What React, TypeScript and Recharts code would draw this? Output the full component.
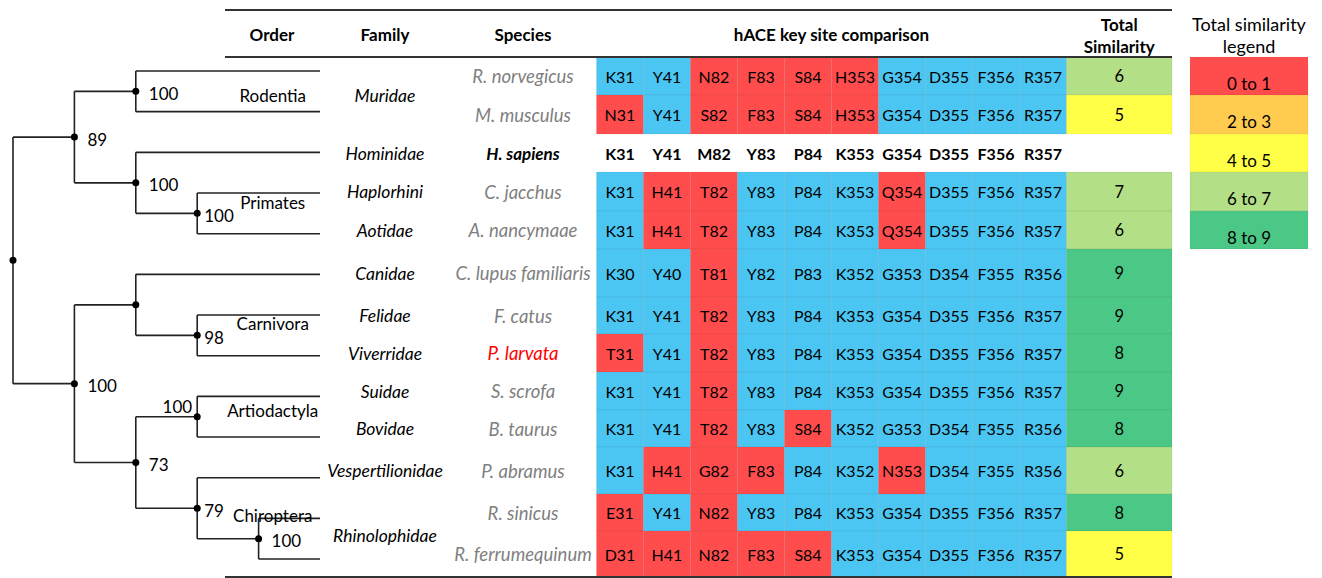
import React from "react";
import { ComposedChart, XAxis, YAxis, Scatter, ReferenceArea, ReferenceLine } from "recharts";

const W = 1322;
const H = 578;
const FONT = "Lato, 'Noto Sans', sans-serif";

// ---- data (rows top to bottom) ----
const species = [
  "R. norvegicus",
  "M. musculus",
  "H. sapiens",
  "C. jacchus",
  "A. nancymaae",
  "C. lupus familiaris",
  "F. catus",
  "P. larvata",
  "S. scrofa",
  "B. taurus",
  "P. abramus",
  "R. sinicus",
  "R. ferrumequinum",
];

const families = [
  { name: "Muridae", rows: [0, 1] },
  { name: "Hominidae", rows: [2, 2] },
  { name: "Haplorhini", rows: [3, 3] },
  { name: "Aotidae", rows: [4, 4] },
  { name: "Canidae", rows: [5, 5] },
  { name: "Felidae", rows: [6, 6] },
  { name: "Viverridae", rows: [7, 7] },
  { name: "Suidae", rows: [8, 8] },
  { name: "Bovidae", rows: [9, 9] },
  { name: "Vespertilionidae", rows: [10, 10] },
  { name: "Rhinolophidae", rows: [11, 12] },
];

const orders = [
  { name: "Rodentia", rows: [0, 1] },
  { name: "Primates", rows: [2, 4] },
  { name: "Carnivora", rows: [5, 7] },
  { name: "Artiodactyla", rows: [8, 9] },
  { name: "Chiroptera", rows: [10, 12] },
];

const keySites = [
  ["K31", "Y41", "N82", "F83", "S84", "H353", "G354", "D355", "F356", "R357"],
  ["N31", "Y41", "S82", "F83", "S84", "H353", "G354", "D355", "F356", "R357"],
  ["K31", "Y41", "M82", "Y83", "P84", "K353", "G354", "D355", "F356", "R357"],
  ["K31", "H41", "T82", "Y83", "P84", "K353", "Q354", "D355", "F356", "R357"],
  ["K31", "H41", "T82", "Y83", "P84", "K353", "Q354", "D355", "F356", "R357"],
  ["K30", "Y40", "T81", "Y82", "P83", "K352", "G353", "D354", "F355", "R356"],
  ["K31", "Y41", "T82", "Y83", "P84", "K353", "G354", "D355", "F356", "R357"],
  ["T31", "Y41", "T82", "Y83", "P84", "K353", "G354", "D355", "F356", "R357"],
  ["K31", "Y41", "T82", "Y83", "P84", "K353", "G354", "D355", "F356", "R357"],
  ["K31", "Y41", "T82", "Y83", "S84", "K352", "G353", "D354", "F355", "R356"],
  ["K31", "H41", "G82", "F83", "P84", "K352", "N353", "D354", "F355", "R356"],
  ["E31", "Y41", "N82", "Y83", "P84", "K353", "G354", "D355", "F356", "R357"],
  ["D31", "H41", "N82", "F83", "S84", "K353", "G354", "D355", "F356", "R357"],
];

const totalSimilarity = [6, 5, null, 7, 6, 9, 9, 8, 9, 8, 6, 8, 5];
const legendBins = ["0 to 1", "2 to 3", "4 to 5", "6 to 7", "8 to 9"];

const HUMAN_ROW = 2;
const HIGHLIGHT = "P. larvata";

// leaves are row indices; internal nodes carry bootstrap support
type TreeNode = number | { support?: number; children: TreeNode[] };
const tree: TreeNode = {
  children: [
    {
      support: 89,
      children: [
        { support: 100, children: [0, 1] },
        { support: 100, children: [2, { support: 100, children: [3, 4] }] },
      ],
    },
    {
      support: 100,
      children: [
        { children: [5, { support: 98, children: [6, 7] }] },
        {
          support: 73,
          children: [
            { support: 100, children: [8, 9] },
            { support: 79, children: [10, { support: 100, children: [11, 12] }] },
          ],
        },
      ],
    },
  ],
};

// ---- layout ----
// table row borders, like spreadsheet row heights (px)
const ROW_EDGES = [57, 95, 134, 172, 211, 249, 297, 334, 372, 410, 447, 494, 531, 577];
const rowMid = (r: number) => (ROW_EDGES[r] + ROW_EDGES[r + 1]) / 2;
const SITE_X0 = 596.5;
const SITE_W = 47;
const col = (px: number) => (px - SITE_X0) / SITE_W;
const TREE_X0 = 13;
const TREE_STEP = 61.4;
const TREE_Y0 = 71;
const LEAF_GAP = 40.67;
const LEAF_DEPTH = 5;
const TABLE_L = 225;
const TABLE_R = 1172;
const SIM_R = 1172;
const LEG_L = 1190;
const LEG_R = 1308;
const labelLeft = new Set(["8-9"]);
// hand nudges (px) for the order names placed over the tree
const orderNudge: Record<string, number> = {
  Rodentia: 4,
  Primates: 9,
  Carnivora: 8,
  Artiodactyla: -6,
  Chiroptera: -3,
};

const MATCH = "#4BC6F2";
const MISMATCH = "#FF4D4D";
const binColors = ["#FF4D4D", "#FFCC4F", "#FFFF47", "#B3DF87", "#4CC886"];
const GRAY = "#7F7F7F";
const RULE = "#333333";

// tree geometry in (depth, leaf) units
type Seg = [{ x: number; y: number }, { x: number; y: number }];
const treeSegs: Seg[] = [];
const treeNodes: any[] = [];
const firstLeaf = (n: TreeNode): number => (typeof n === "number" ? n : firstLeaf(n.children[0]));
const lastLeaf = (n: TreeNode): number =>
  typeof n === "number" ? n : lastLeaf(n.children[n.children.length - 1]);
function layout(n: TreeNode, depth: number): number {
  if (typeof n === "number") return n;
  const ys = n.children.map((c) => layout(c, depth + 1));
  const y = (ys[0] + ys[ys.length - 1]) / 2;
  n.children.forEach((c, i) => {
    const cx = typeof c === "number" ? LEAF_DEPTH : depth + 1;
    treeSegs.push([{ x: depth, y: ys[i] }, { x: cx, y: ys[i] }]);
  });
  treeSegs.push([{ x: depth, y: ys[0] }, { x: depth, y: ys[ys.length - 1] }]);
  treeNodes.push({
    x: depth,
    y,
    depth,
    support: n.support,
    left: labelLeft.has(`${firstLeaf(n)}-${lastLeaf(n)}`),
  });
  return y;
}
layout(tree, 0);

// cells
const siteCells: any[] = [];
const cellTexts: any[] = [];
keySites.forEach((row, r) => {
  row.forEach((s, i) => {
    const human = keySites[HUMAN_ROW][i];
    const same = s[0] === human[0];
    if (r !== HUMAN_ROW) siteCells.push({ r, i, fill: same ? MATCH : MISMATCH });
    cellTexts.push({ x: i + 0.5, y: rowMid(r), text: s, bold: r === HUMAN_ROW, size: 16 });
  });
});

const simCells = totalSimilarity
  .map((v, r) => ({ r, v }))
  .filter((d) => d.v != null)
  .map((d) => ({ ...d, fill: binColors[Math.min(4, Math.floor((d.v as number) / 2))] }));

const simX = (10 + col(SIM_R)) / 2;
const legX = col((LEG_L + LEG_R) / 2);

const textItems: any[] = [
  ...cellTexts,
  ...simCells.map((d) => ({ x: simX, y: rowMid(d.r), text: String(d.v), size: 16.5 })),
  ...species.map((s, r) => ({
    x: col(523),
    y: rowMid(r),
    text: s,
    italic: true,
    bold: r === HUMAN_ROW,
    size: r === HUMAN_ROW ? 17 : 18.5,
    color: r === HUMAN_ROW ? "#000" : s === HIGHLIGHT ? "#FF0000" : GRAY,
  })),
  ...families.map((f) => ({
    x: col(385),
    y: (ROW_EDGES[f.rows[0]] + ROW_EDGES[f.rows[1] + 1]) / 2,
    text: f.name,
    italic: true,
    size: 17.5,
  })),
  ...legendBins.map((b, k) => ({ x: legX, y: rowMid(k) + 7, text: b, size: 17 })),
  { x: col(272), y: 34, text: "Order", bold: true },
  { x: col(385), y: 34, text: "Family", bold: true },
  { x: col(523), y: 34, text: "Species", bold: true },
  { x: 5, y: 34, text: "hACE key site comparison", bold: true },
  { x: simX, y: 24, text: "Total", bold: true },
  { x: simX, y: 46, text: "Similarity", bold: true },
  { x: legX, y: 24, text: "Total similarity", size: 18 },
  { x: legX, y: 46, text: "legend", size: 18 },
];

const orderItems = orders.map((o) => ({
  x: LEAF_DEPTH - 0.77,
  y: (o.rows[0] + o.rows[1]) / 2 + (orderNudge[o.name] ?? 0) / LEAF_GAP,
  text: o.name,
}));

const TextShape = (p: any) => {
  const d = p.payload;
  return (
    <text
      x={p.cx}
      y={p.cy}
      textAnchor="middle"
      dominantBaseline="central"
      fontFamily={FONT}
      fontSize={d.size ?? 17}
      fontWeight={d.bold ? 700 : 400}
      fontStyle={d.italic ? "italic" : "normal"}
      fill={d.color ?? "#000"}
    >
      {d.text}
    </text>
  );
};

const NodeShape = (p: any) => {
  const d = p.payload;
  const dx = d.left ? -5 : d.depth === 3 ? 7 : 13;
  return (
    <g>
      <circle cx={p.cx} cy={p.cy} r={3.5} fill="#000" />
      {d.support != null && (
        <text
          x={p.cx + dx}
          y={d.left ? p.cy - 10 : p.cy + 2}
          textAnchor={d.left ? "end" : "start"}
          dominantBaseline="central"
          fontFamily={FONT}
          fontSize={17}
          fill="#000"
        >
          {d.support}
        </text>
      )}
    </g>
  );
};

export default function App() {
  return (
    <div style={{ position: "absolute", left: 0, top: 0, width: W, height: H, background: "#fff" }}>
      <ComposedChart width={W} height={H} margin={{ top: 0, right: 0, bottom: 0, left: 0 }}>
        <XAxis
          xAxisId="tab"
          type="number"
          dataKey="x"
          scale="linear"
          domain={[col(0), col(W)]}
          allowDataOverflow
          hide
        />
        <XAxis
          xAxisId="tree"
          type="number"
          dataKey="x"
          scale="linear"
          domain={[-TREE_X0 / TREE_STEP, (W - TREE_X0) / TREE_STEP]}
          allowDataOverflow
          hide
        />
        <YAxis
          yAxisId="tab"
          type="number"
          dataKey="y"
          scale="linear"
          domain={[0, H]}
          reversed
          allowDataOverflow
          hide
        />
        <YAxis
          yAxisId="tree"
          type="number"
          dataKey="y"
          scale="linear"
          domain={[-TREE_Y0 / LEAF_GAP, (H - TREE_Y0) / LEAF_GAP]}
          reversed
          allowDataOverflow
          hide
        />

        {siteCells.map((c) => (
          <ReferenceArea
            key={`c${c.r}-${c.i}`}
            xAxisId="tab"
            yAxisId="tab"
            x1={c.i}
            x2={c.i + 1}
            y1={ROW_EDGES[c.r]}
            y2={ROW_EDGES[c.r + 1]}
            fill={c.fill}
            fillOpacity={1}
            stroke="rgba(0,0,0,0.05)"
            ifOverflow="visible"
          />
        ))}
        {simCells.map((c) => (
          <ReferenceArea
            key={`s${c.r}`}
            xAxisId="tab"
            yAxisId="tab"
            x1={10}
            x2={col(SIM_R)}
            y1={ROW_EDGES[c.r]}
            y2={ROW_EDGES[c.r + 1]}
            fill={c.fill}
            fillOpacity={1}
            stroke="rgba(0,0,0,0.05)"
            ifOverflow="visible"
          />
        ))}
        {legendBins.map((b, k) => (
          <ReferenceArea
            key={`l${k}`}
            xAxisId="tab"
            yAxisId="tab"
            x1={col(LEG_L)}
            x2={col(LEG_R)}
            y1={ROW_EDGES[k]}
            y2={ROW_EDGES[k + 1]}
            fill={binColors[k]}
            fillOpacity={1}
            stroke="rgba(0,0,0,0.04)"
            ifOverflow="visible"
          />
        ))}

        {[10, ROW_EDGES[0], ROW_EDGES[ROW_EDGES.length - 1]].map((y) => (
          <ReferenceLine
            key={`rule${y}`}
            xAxisId="tab"
            yAxisId="tab"
            segment={[
              { x: col(TABLE_L), y },
              { x: col(TABLE_R), y },
            ]}
            stroke={RULE}
            strokeWidth={2}
            ifOverflow="visible"
          />
        ))}

        {treeSegs.map((s, k) => (
          <ReferenceLine
            key={`t${k}`}
            xAxisId="tree"
            yAxisId="tree"
            segment={s}
            stroke="#222"
            strokeWidth={1.6}
            ifOverflow="visible"
          />
        ))}

        <Scatter
          xAxisId="tree"
          yAxisId="tree"
          data={orderItems}
          shape={TextShape}
          isAnimationActive={false}
        />
        <Scatter
          xAxisId="tree"
          yAxisId="tree"
          data={treeNodes}
          shape={NodeShape}
          isAnimationActive={false}
        />
        <Scatter
          xAxisId="tab"
          yAxisId="tab"
          data={textItems}
          shape={TextShape}
          isAnimationActive={false}
        />
      </ComposedChart>
    </div>
  );
}
